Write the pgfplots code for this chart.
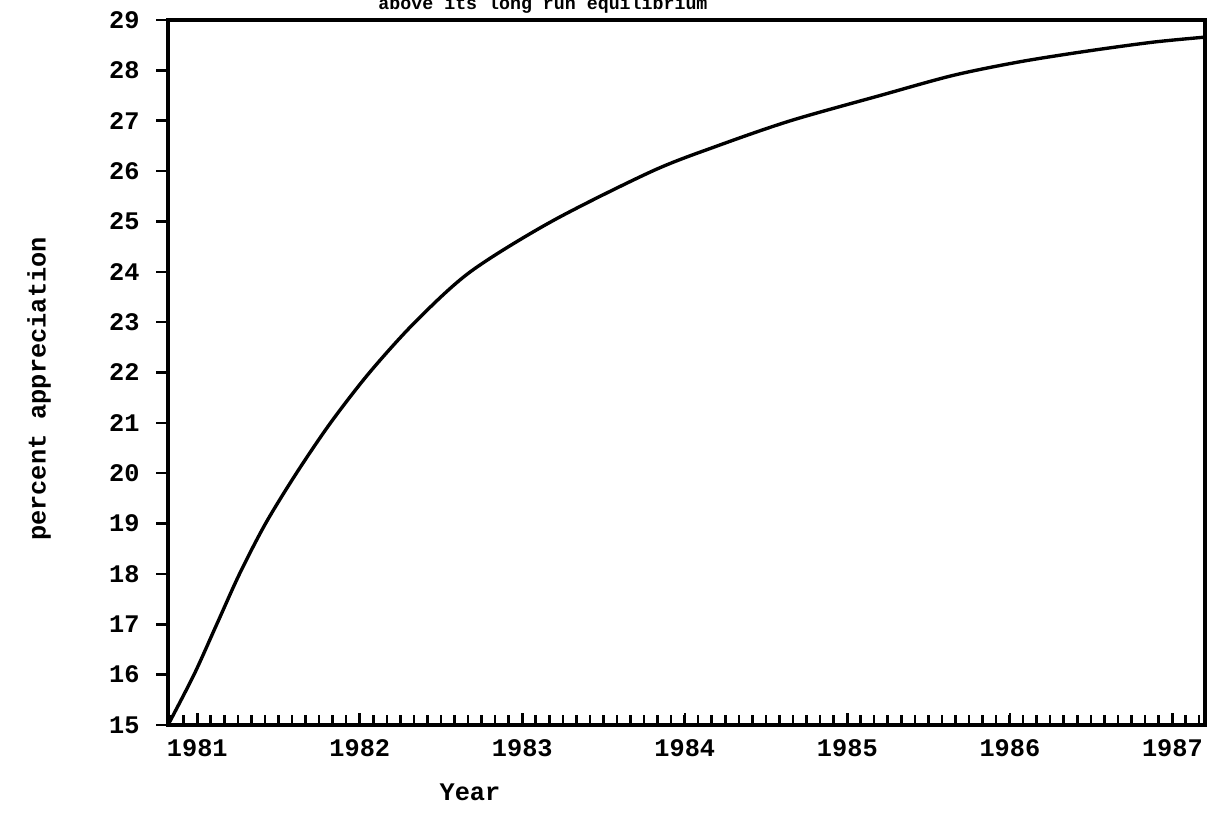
\documentclass[border=0pt]{standalone}
\usepackage{fontspec}
\setmainfont{Liberation Mono}
\usepackage{pgfplots}
\pgfplotsset{compat=1.18}

\begin{document}
\begin{tikzpicture}
% fixed page: 1212x812 px at 0.0125cm per px, origin at the axis' lower left corner
\useasboundingbox (-2.1,-1.0875) rectangle (13.05,9.0625);
\begin{axis}[
    at={(0,0)}, anchor=south west,
    scale only axis,
    width=12.9625cm, height=8.8125cm,
    xmin=1980.82, xmax=1987.2,
    ymin=15, ymax=29,
    xtick={1981,...,1987},
    minor xtick={1980.8333333,1980.9166667,...,1987.2},
    ytick={15,...,29},
    xtick pos=bottom, ytick pos=left,
    tick align=inside,
    major tick length=0.15cm,
    minor tick length=0.13cm,
    ytick style={xshift=-0.15cm},
    axis line style={line width=1.2pt},
    every tick/.style={line width=0.9pt, black},
    /pgf/number format/assume math mode=true,
    /pgf/number format/1000 sep={},
    xticklabel style={inner sep=0pt, yshift=-0.18cm},
    yticklabel style={inner sep=0pt, xshift=-0.35cm},
    tick label style={font=\fontsize{9}{10}\selectfont\bfseries},
    clip=false,
]
\addplot[black, line width=1.2pt, smooth] coordinates {
    (1980.82,15.0)
    (1980.98,16.0)
    (1981.12,17.0)
    (1981.26,18.0)
    (1981.42,19.0)
    (1981.61,20.0)
    (1981.82,21.0)
    (1982.06,22.0)
    (1982.34,23.0)
    (1982.68,24.0)
    (1983.18,25.0)
    (1983.80,26.0)
    (1984.20,26.5)
    (1984.65,27.0)
    (1985.20,27.5)
    (1985.65,27.9)
    (1986.06,28.17)
    (1986.47,28.38)
    (1986.88,28.56)
    (1987.20,28.66)
};
\end{axis}
\node[anchor=base, inner sep=0pt, font=\fontsize{6.5}{7}\selectfont\bfseries]
    at (4.6875,8.95) {above its long run equilibrium};
\node[font=\fontsize{9}{10}\selectfont\bfseries] at (3.775,-0.84) {Year};
\node[rotate=90, font=\fontsize{9}{10}\selectfont\bfseries]
    at (-1.6125,4.2) {percent appreciation};
\end{tikzpicture}
\end{document}
